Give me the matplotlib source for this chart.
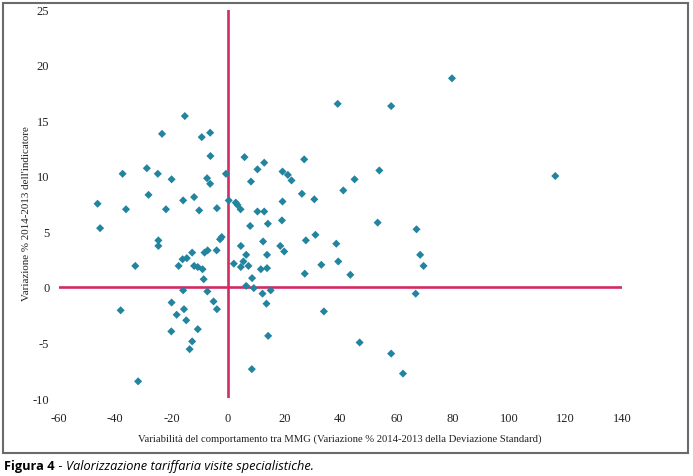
import matplotlib
matplotlib.use("Agg")
import matplotlib.pyplot as plt
from matplotlib.patches import Rectangle

# variability (x) vs indicator change (y)
x_vals = [-46.3, -45.4, -37.4, -36.2, -38.1, -32.9, -31.9, -28.8, -28.2, -24.9,
          -23.4, -24.7, -24.7, -22.0, -20.0, -20.0, -20.1, -18.2, -17.5, -16.1,
          -14.6, -15.9, -15.3, -15.9, -15.6, -14.8, -13.6, -12.7, -12.7, -12.0,
          -12.0, -10.7, -10.7, -10.2, -9.3, -9.0, -8.6, -8.3, -7.2, -7.4,
          -7.3, -6.3, -6.3, -6.2, -5.1, -4.0, -3.9, -3.9, -2.8, -2.2,
          -0.7,
          0.3, 2.1, 2.8, 3.4, 4.5, 4.6, 4.6, 5.5, 5.9, 6.5,
          6.5, 7.3, 7.9, 8.2, 8.6, 8.5, 9.2, 10.5, 10.5, 11.7,
          12.3, 12.5, 12.9, 12.9, 13.7, 13.9, 13.9, 14.2, 14.3, 15.2,
          18.6, 19.2, 19.4, 19.4, 20.0, 21.3, 22.6, 26.3, 27.1, 27.3,
          27.7, 30.7, 31.1, 33.2, 34.1, 38.5, 39.0, 39.2, 41.0, 43.5,
          45.0, 46.8, 53.2, 53.8, 58.0, 58.0, 62.2, 66.7, 67.0, 68.3,
          69.5, 79.6, 116.3]
y_vals = [7.5, 5.3, 10.2, 7.0, -2.1, 1.9, -8.5, 10.7, 8.3, 10.2,
          13.8, 4.2, 3.7, 7.0, 9.7, -1.4, -4.0, -2.5, 1.9, 2.5,
          2.6, 7.8, 15.4, -0.3, -2.0, -3.0, -5.6, -4.9, 3.1, 8.1,
          1.9, 1.8, -3.8, 6.9, 13.5, 1.6, 0.7, 3.1, 3.3, 9.8,
          -0.4, 9.3, 13.9, 11.8, -1.3, 3.3, 7.1, -2.0, 4.3, 4.5,
          10.2,
          7.8, 2.1, 7.6, 7.4, 7.0, 3.7, 1.8, 2.3, 11.7, 2.9,
          0.1, 1.9, 5.5, 9.5, 0.8, -7.4, -0.1, 10.6, 6.8, 1.6,
          -0.6, 4.1, 11.2, 6.8, -1.5, 2.9, 1.7, 5.7, -4.4, -0.3,
          3.7, 6.0, 7.7, 10.4, 3.2, 10.1, 9.6, 8.4, 11.5, 1.2,
          4.2, 7.9, 4.7, 2.0, -2.2, 3.9, 16.5, 2.3, 8.7, 1.1,
          9.7, -5.0, 5.8, 10.5, 16.3, -6.0, -7.8, -0.6, 5.2, 2.9,
          1.9, 18.8, 10.0]

x_ticks = [-60, -40, -20, 0, 20, 40, 60, 80, 100, 120, 140]
y_ticks = [-10, -5, 0, 5, 10, 15, 20, 25]

fig = plt.figure(figsize=(6.93, 4.77), dpi=100)
ax = fig.add_axes([59/693, 1-399/477, 563/693, 388.5/477])

ax.plot([0, 0], [-10, 25], color="#d42a63", lw=1.9, zorder=1)
ax.plot([-60, 140], [0, 0], color="#d42a63", lw=1.9, zorder=1)
ax.scatter(x_vals, y_vals, marker="D", s=17, color="#22849f", edgecolors="none", zorder=2)

ax.set_xlim(-60, 140)
ax.set_ylim(-10, 25)
ax.set_xticks(x_ticks)
ax.set_yticks(y_ticks)
ax.set_xticklabels([str(t) for t in x_ticks])
ax.set_yticklabels([str(t) for t in y_ticks])
for s in ax.spines.values():
    s.set_visible(False)
ax.tick_params(axis="x", length=0, pad=10, labelsize=9, labelcolor="#222222")
ax.tick_params(axis="y", length=0, pad=7, labelsize=9, labelcolor="#222222")
for lab in ax.get_xticklabels() + ax.get_yticklabels():
    lab.set_family("Liberation Serif")

fig.text(340/693, 1-439/477,
         "Variabilità del comportamento tra MMG (Variazione % 2014-2013 della Deviazione Standard)",
         ha="center", va="center", fontsize=7.7, family="Liberation Serif", color="#222222")
fig.text(27/693, 1-214/477, "Variazione % 2014-2013 dell'indicatore",
         ha="center", va="center", rotation=90, rotation_mode="anchor", fontsize=7.9,
         family="Liberation Serif", color="#222222")

# outer frame
fig.patches.append(Rectangle((3/693, 1-454/477), 685/693, 450/477, transform=fig.transFigure,
                             fill=False, edgecolor="#6a6a6a", lw=1.5))

t1 = fig.text(4/693, 1-467/477, "Figura 4", fontsize=9.2, weight="bold",
              family="Open Sans", va="center", ha="left")
fig.canvas.draw()
bb = t1.get_window_extent()
t2 = fig.text(bb.x1/693, 1-467/477, " - ", fontsize=9.2, family="Open Sans",
              va="center", ha="left")
bb2 = t2.get_window_extent()
fig.text(bb2.x1/693, 1-467/477, "Valorizzazione tariffaria visite specialistiche.",
         fontsize=9.2, style="italic", family="Open Sans", va="center", ha="left")

fig.savefig("out.png", dpi=100)
